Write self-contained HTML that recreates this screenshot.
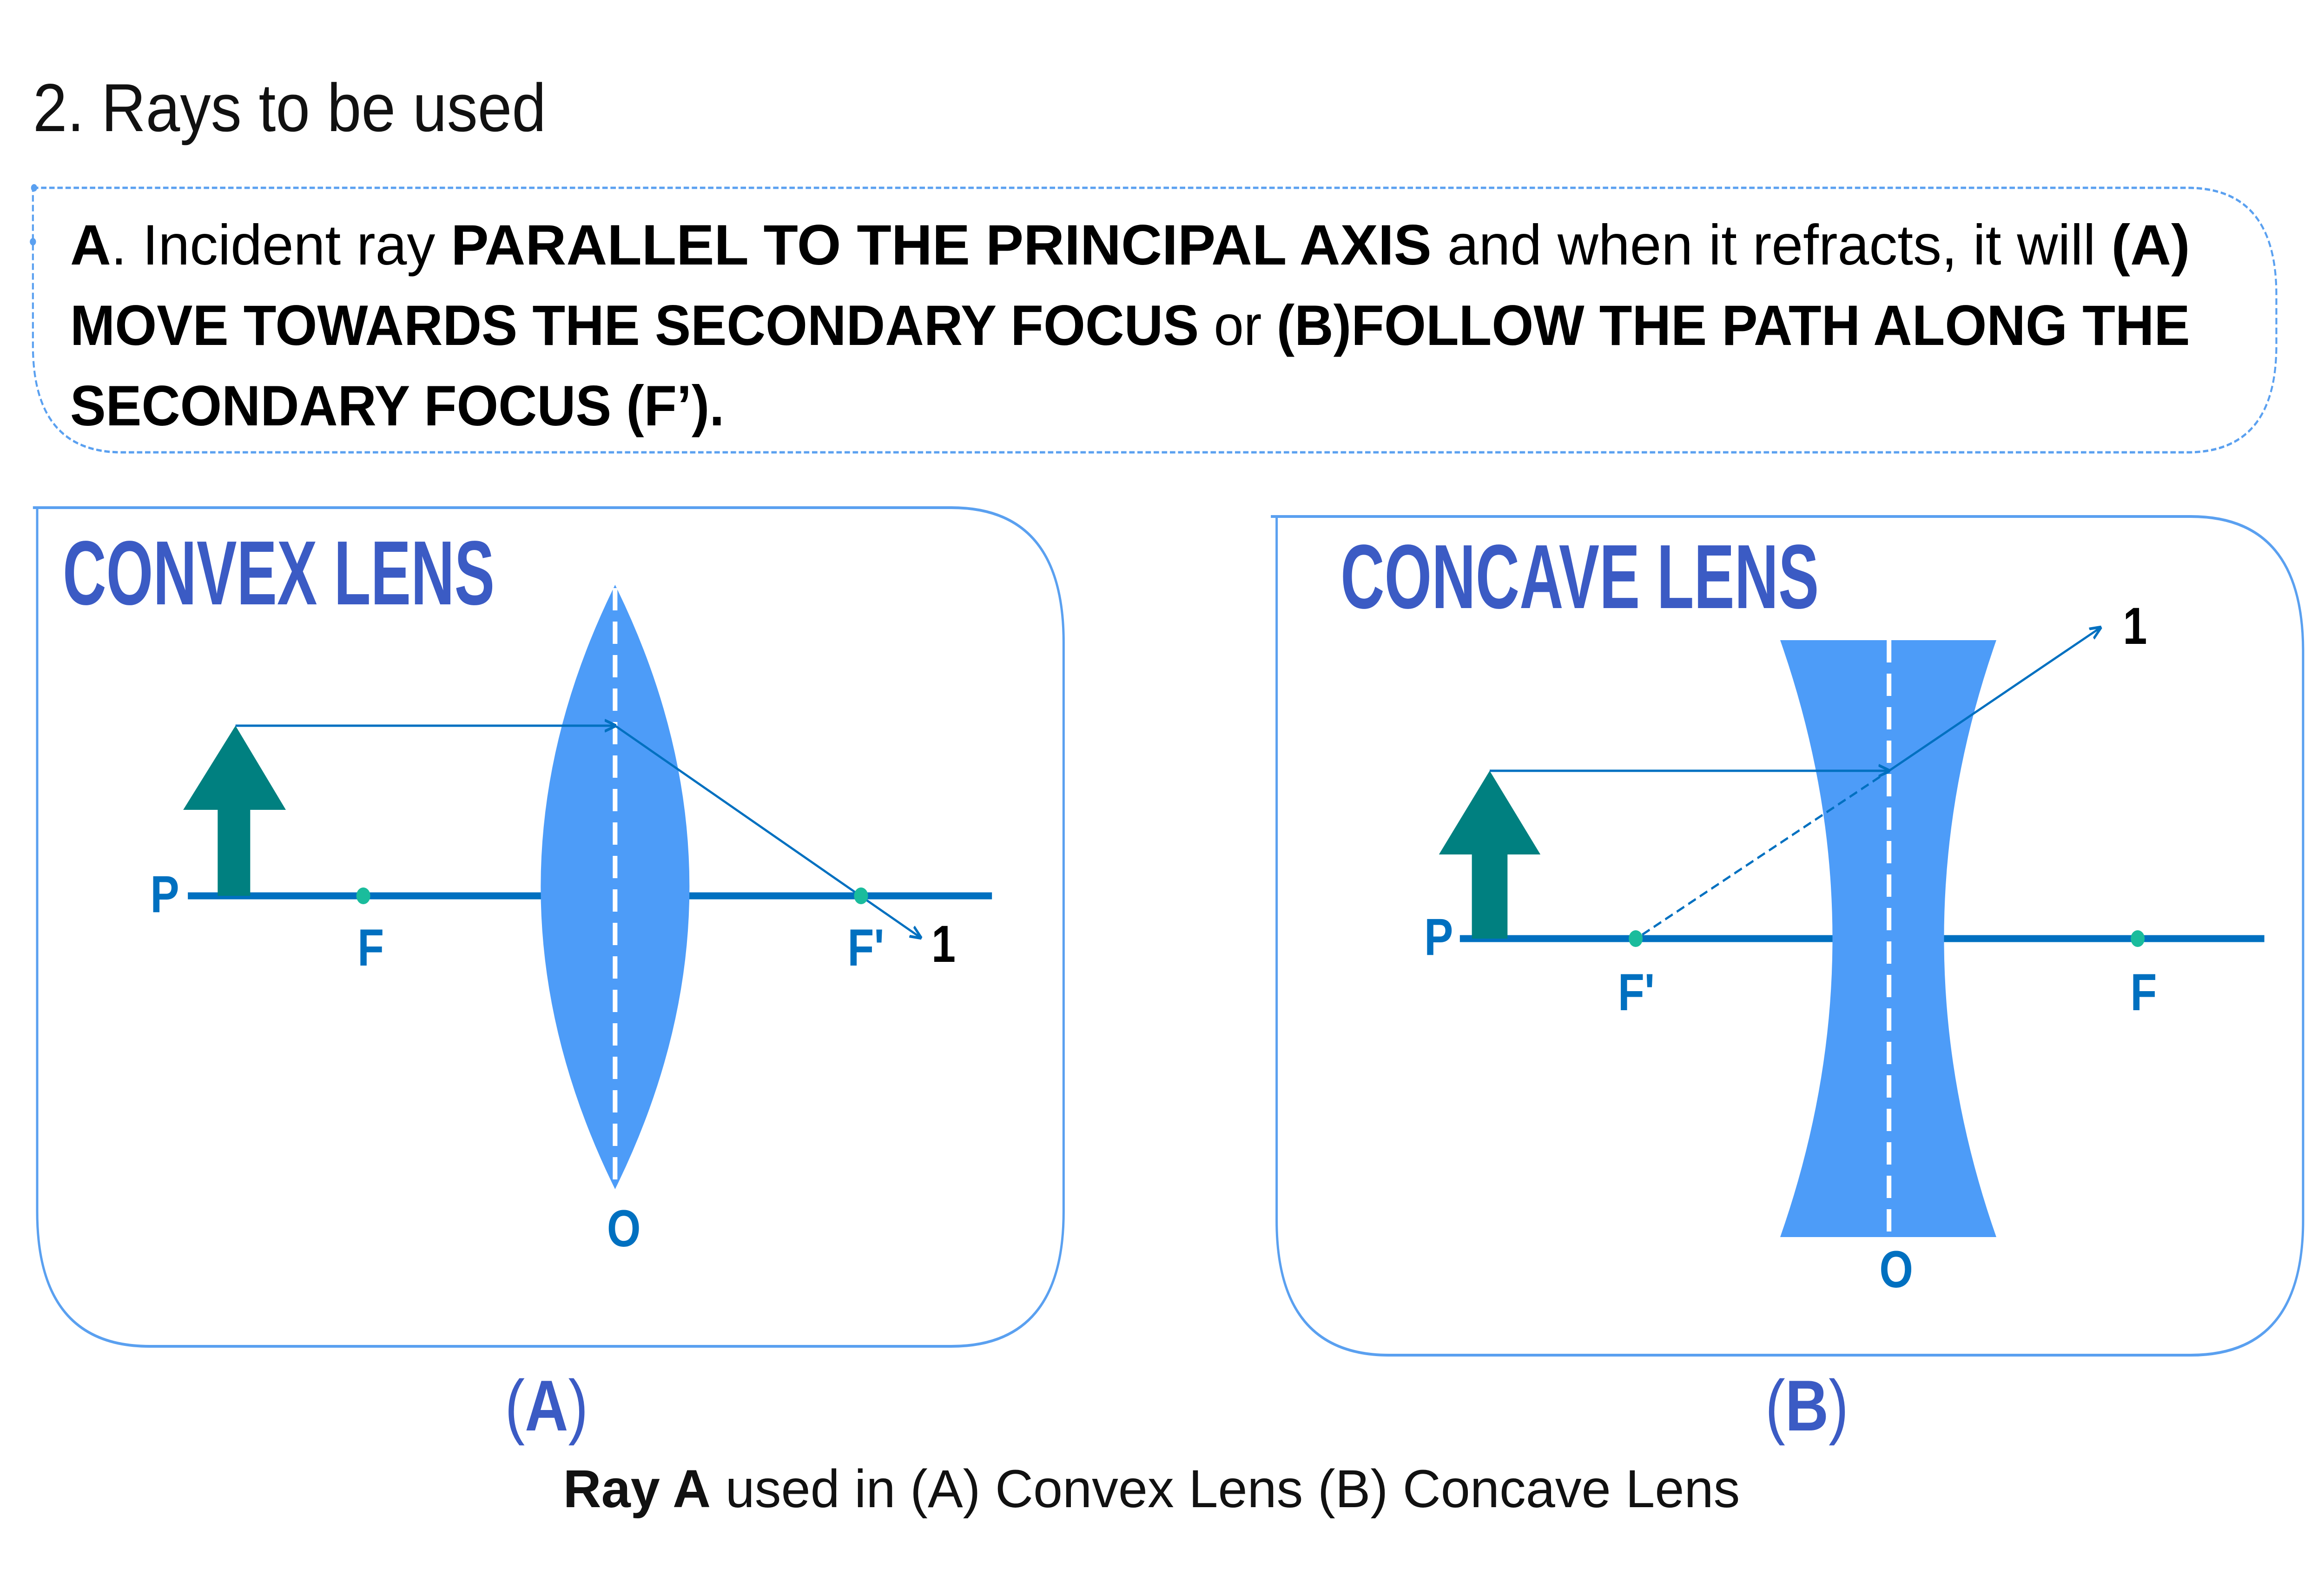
<!DOCTYPE html>
<html><head><meta charset="utf-8"><style>html,body{margin:0;padding:0;background:#fff;width:100%;height:100%;overflow:hidden}svg{display:block;width:100vw;height:100vh}</style></head>
<body>
<svg viewBox="0 0 6000 3375" preserveAspectRatio="none" xmlns="http://www.w3.org/2000/svg" font-family="Liberation Sans, sans-serif">
<defs>
<marker id="ah2" viewBox="0 0 10 10" refX="9" refY="5" markerWidth="30" markerHeight="30" markerUnits="userSpaceOnUse" orient="auto"><path d="M0,1 L10,5 L0,9" fill="none" stroke="#0070c0" stroke-width="2"/></marker>
</defs>
<text x="85" y="282" font-size="146" fill="#111" textLength="1325" lengthAdjust="spacingAndGlyphs">2. Rays to be used</text>
<path d="M85 404 L5647 404 Q5877 404 5877 634 L5877 743 Q5877 973 5647 973 L315 973 Q85 973 85 743 L85 404" fill="none" stroke="#5aa0f0" stroke-width="5" stroke-dasharray="14 7"/>
<circle cx="88" cy="404" r="8" fill="#5aa0f0"/><circle cx="85" cy="520" r="8" fill="#5aa0f0"/>
<g font-size="123" fill="#000">
<text x="181" y="569" textLength="5473" lengthAdjust="spacingAndGlyphs"><tspan font-weight="bold">A</tspan>. Incident ray <tspan font-weight="bold">PARALLEL TO THE PRINCIPAL AXIS</tspan> and when it refracts, it will <tspan font-weight="bold">(A)</tspan></text>
<text x="181" y="742" textLength="5473" lengthAdjust="spacingAndGlyphs"><tspan font-weight="bold">MOVE TOWARDS THE SECONDARY FOCUS</tspan> or <tspan font-weight="bold">(B)FOLLOW THE PATH ALONG THE</tspan></text>
<text x="181" y="915" font-weight="bold" textLength="1689" lengthAdjust="spacingAndGlyphs">SECONDARY FOCUS (F’).</text>
</g>
<path d="M85 1092 L2456 1092 Q2746 1092 2746 1382 L2746 2606 Q2746 2896 2456 2896 L386 2896 Q96 2896 96 2606 L96 1092" fill="none" stroke="#5aa0f0" stroke-width="6"/>
<text x="162" y="1300" font-size="196" font-weight="bold" fill="#3b5bc4" textLength="1115" lengthAdjust="spacingAndGlyphs">CONVEX LENS</text>
<line x1="485" y1="1927" x2="2561" y2="1927" stroke="#0070c0" stroke-width="15"/>
<path d="M1588 1258 Q1204 1908 1588 2558 Q1972 1908 1588 1258 Z" fill="#4d9cf8"/>
<line x1="1588" y1="1265" x2="1588" y2="2550" stroke="#fff" stroke-width="12" stroke-dasharray="48 24"/>
<rect x="562" y="1742" width="84" height="185" fill="#008080"/>
<polygon points="608,1561 738,1742 473,1742" fill="#008080"/>
<line x1="608" y1="1561" x2="1588" y2="1561" stroke="#0070c0" stroke-width="5" marker-end="url(#ah2)"/>
<line x1="1588" y1="1561" x2="2377" y2="2017" stroke="#0070c0" stroke-width="5" marker-end="url(#ah2)"/>
<circle cx="938" cy="1927" r="18" fill="#1abc9c"/><circle cx="2223" cy="1927" r="18" fill="#1abc9c"/>
<g font-size="112" font-weight="bold" fill="#0070c0">
<text x="388" y="1962">P</text><text x="923" y="2077">F</text><text x="2188" y="2077">F'</text><text x="1567" y="2681">O</text>
</g>
<text x="2405" y="2069" font-size="112" font-weight="bold" fill="#000">1</text>
<path d="M3281 1111 L5656 1111 Q5946 1111 5946 1401 L5946 2625 Q5946 2915 5656 2915 L3586 2915 Q3296 2915 3296 2625 L3296 1111" fill="none" stroke="#5aa0f0" stroke-width="6"/>
<text x="3461" y="1308" font-size="196" font-weight="bold" fill="#3b5bc4" textLength="1235" lengthAdjust="spacingAndGlyphs">CONCAVE LENS</text>
<line x1="3769" y1="2019" x2="5846" y2="2019" stroke="#0070c0" stroke-width="15"/>
<path d="M4596 1377 L5154 1377 Q4884 2019 5154 2661 L4596 2661 Q4866 2019 4596 1377 Z" fill="#4d9cf8"/>
<line x1="4877" y1="1377" x2="4877" y2="2661" stroke="#fff" stroke-width="12" stroke-dasharray="48 24"/>
<rect x="3800" y="1838" width="92" height="181" fill="#008080"/>
<polygon points="3846,1658 3977,1838 3715,1838" fill="#008080"/>
<line x1="3846" y1="1658" x2="4877" y2="1658" stroke="#0070c0" stroke-width="5" marker-end="url(#ah2)"/>
<line x1="4877" y1="1658" x2="5423" y2="1350" stroke="#0070c0" stroke-width="5" marker-end="url(#ah2)"/>
<line x1="4210" y1="2027" x2="4877" y2="1658" stroke="#0070c0" stroke-width="5" stroke-dasharray="22 12"/>
<circle cx="4223" cy="2019" r="18" fill="#1abc9c"/><circle cx="5519" cy="2019" r="18" fill="#1abc9c"/>
<g font-size="112" font-weight="bold" fill="#0070c0">
<text x="3677" y="2054">P</text><text x="4177" y="2173">F'</text><text x="5500" y="2173">F</text><text x="4852" y="2769">O</text>
</g>
<text x="5481" y="1385" font-size="112" font-weight="bold" fill="#000">1</text>
<text x="1411" y="3077" font-size="155" font-weight="bold" fill="#3b5bc4" text-anchor="middle"><tspan font-weight="normal">(</tspan>A<tspan font-weight="normal">)</tspan></text>
<text x="4665" y="3077" font-size="155" font-weight="bold" fill="#3b5bc4" text-anchor="middle"><tspan font-weight="normal">(</tspan>B<tspan font-weight="normal">)</tspan></text>
<text x="1454" y="3242" font-size="115" fill="#111" textLength="3038" lengthAdjust="spacingAndGlyphs"><tspan font-weight="bold">Ray A</tspan> used in (A) Convex Lens (B) Concave Lens</text>
</svg>
</body></html>
